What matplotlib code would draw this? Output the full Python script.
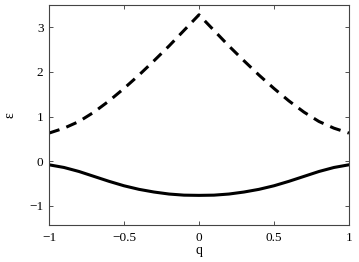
import matplotlib
matplotlib.use("Agg")
import matplotlib.pyplot as plt
import numpy as np

plt.rcParams['font.family'] = ['Liberation Serif', 'DejaVu Serif']

# values
q = [-1.0, -0.9, -0.8, -0.7, -0.6, -0.5, -0.4, -0.3, -0.2, -0.1, 0.0,
     0.1, 0.2, 0.3, 0.4, 0.5, 0.6, 0.7, 0.8, 0.9, 1.0]
eps_upper = [0.63, 0.74, 0.89, 1.10, 1.35, 1.63, 1.93, 2.25, 2.58, 2.93, 3.28,
             2.93, 2.58, 2.25, 1.93, 1.63, 1.35, 1.10, 0.89, 0.74, 0.63]
eps_lower = [-0.08, -0.14, -0.23, -0.34, -0.45, -0.55, -0.63, -0.69, -0.735, -0.76, -0.765,
             -0.76, -0.735, -0.69, -0.63, -0.55, -0.45, -0.34, -0.23, -0.14, -0.08]
xticks = [-1, -0.5, 0, 0.5, 1]
xticklabels = ['\u22121', '\u22120.5', '0', '0.5', '1']
yticks = [-1, 0, 1, 2, 3]
yticklabels = ['\u22121', '0', '1', '2', '3']

fig = plt.figure(figsize=(3.59, 2.62), dpi=100)
ax = fig.add_axes([0.1365, 0.141, 0.8355, 0.840])

ax.plot(q, eps_upper, color='black', lw=2.2, dashes=(3.6, 2.4))
ax.plot(q, eps_lower, color='black', lw=2.2)

ax.set_xlim(-1, 1)
ax.set_ylim(-1.43, 3.5)
ax.set_xticks(xticks)
ax.set_xticklabels(xticklabels)
ax.set_yticks(yticks)
ax.set_yticklabels(yticklabels)
ax.tick_params(direction='in', length=3, width=0.6, top=True, right=True,
               labelsize=9.5, colors='#333333', labelcolor='black')
ax.tick_params(axis='x', pad=5)
ax.tick_params(axis='y', pad=4)
for s in ax.spines.values():
    s.set_color('#444444')
    s.set_linewidth(0.8)

ax.set_xlabel('q', fontsize=10, labelpad=0)
ax.set_ylabel('\u03b5', fontsize=10, labelpad=9)

fig.savefig('out.png', dpi=100)
